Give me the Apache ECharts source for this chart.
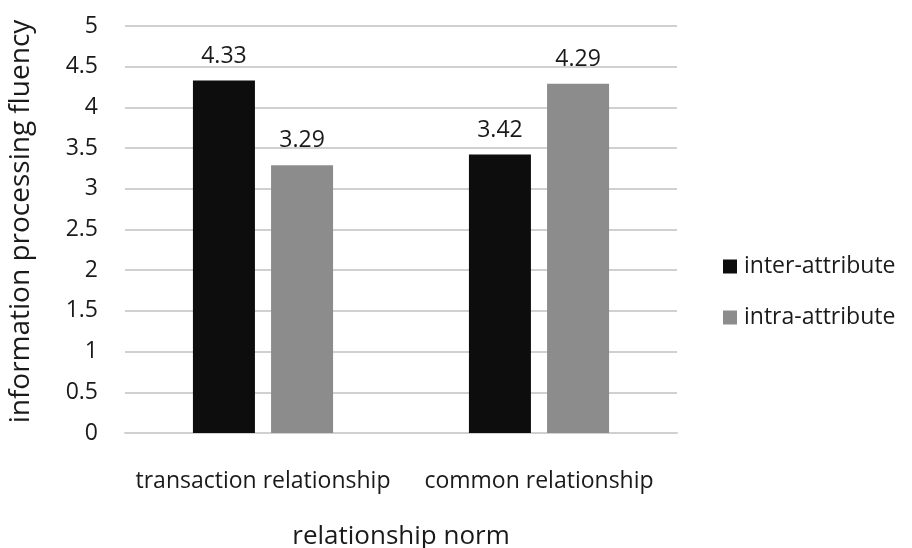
<!DOCTYPE html>
<html>
<head>
<meta charset="utf-8">
<script src="https://cdn.jsdelivr.net/npm/echarts@6/dist/echarts.min.js"></script>
<style>
  html, body { margin: 0; padding: 0; background: #fff; }
  #chart { width: 912px; height: 548px; }
</style>
</head>
<body>
<div id="chart"></div>
<script>
// Relationship norm categories and fluency means per attribute type
const categories = ['transaction relationship', 'common relationship'];
const interAttribute = [4.33, 3.42];
const intraAttribute = [3.29, 4.29];
const seriesNames = ['inter-attribute', 'intra-attribute'];

const FONT = '"Open Sans", "Liberation Sans", sans-serif';
const TEXT = '#1a1a1a';

const chart = echarts.init(document.getElementById('chart'));

const labelStyle = {
  show: true,
  position: 'top',
  distance: 13,
  color: TEXT,
  fontFamily: FONT,
  fontSize: 23,
  formatter: p => p.value.toFixed(2)
};

chart.setOption({
  animation: false,
  backgroundColor: '#fff',
  textStyle: { fontFamily: FONT },
  grid: { left: 125, right: 235, top: 26, bottom: 115, outerBoundsMode: 'none', containLabel: false },
  legend: {
    orient: 'vertical',
    left: 718,
    top: 250,
    itemWidth: 14,
    itemHeight: 14,
    itemGap: 28,
    icon: 'rect',
    textStyle: { fontFamily: FONT, fontSize: 23, color: TEXT, padding: [0, 0, 0, 2] },
    data: seriesNames
  },
  xAxis: {
    type: 'category',
    data: categories,
    name: 'relationship norm',
    nameLocation: 'middle',
    nameGap: 91,
    nameTextStyle: { fontFamily: FONT, fontSize: 26, color: TEXT },
    axisLine: { lineStyle: { color: '#d0d0d0', width: 2 } },
    axisTick: { show: false },
    axisLabel: { interval: 0, fontFamily: FONT, fontSize: 23, color: TEXT, margin: 37 }
  },
  yAxis: {
    type: 'value',
    min: 0,
    max: 5,
    interval: 0.5,
    name: 'information processing fluency',
    nameLocation: 'middle',
    nameGap: 90,
    nameTextStyle: { fontFamily: FONT, fontSize: 28, color: TEXT, padding: [0, 0, 0, 16] },
    axisLine: { show: false },
    axisTick: { show: false },
    axisLabel: { fontFamily: FONT, fontSize: 23, color: TEXT, margin: 27 },
    splitLine: { lineStyle: { color: '#d0d0d0', width: 2 } }
  },
  series: [
    {
      name: seriesNames[0],
      type: 'bar',
      data: interAttribute,
      barWidth: 62,
      barGap: '26%',
      itemStyle: { color: '#0d0d0d' },
      label: labelStyle
    },
    {
      name: seriesNames[1],
      type: 'bar',
      data: intraAttribute,
      barWidth: 62,
      barGap: '26%',
      itemStyle: { color: '#8c8c8c' },
      label: labelStyle
    }
  ]
});
</script>
</body>
</html>
